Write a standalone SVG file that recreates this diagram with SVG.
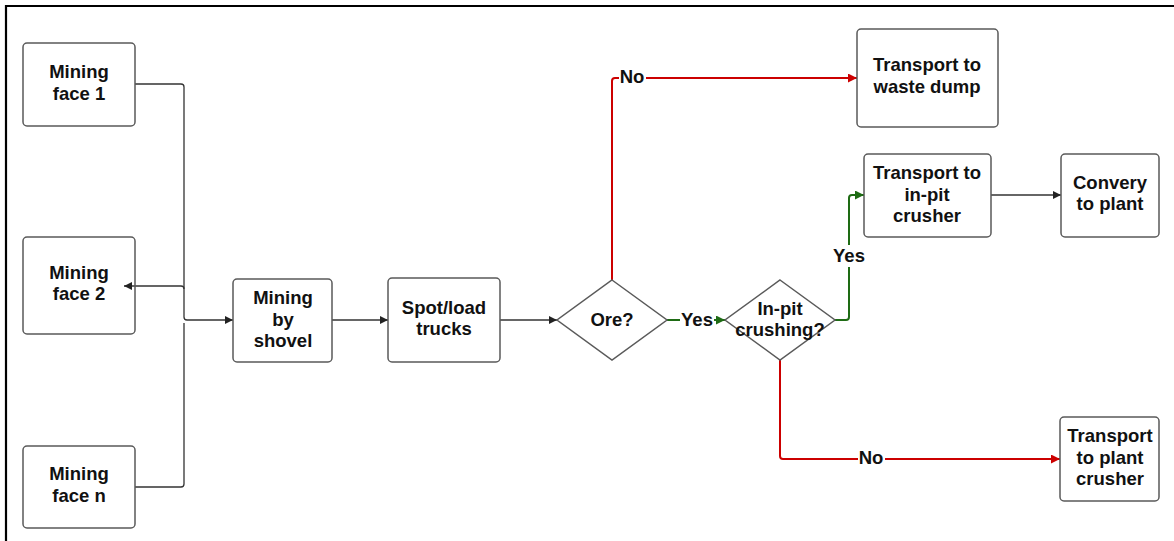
<svg xmlns="http://www.w3.org/2000/svg" width="1174" height="541" viewBox="0 0 1174 541">
<defs>
<style>
.box{fill:#fff;stroke:#5a5a5a;stroke-width:1.5}
.t{font-family:"Liberation Sans",Arial,sans-serif;font-weight:bold;font-size:18.5px;fill:#111;text-anchor:middle;dominant-baseline:central}
.c{fill:none;stroke:#333;stroke-width:1.3}
.r{fill:none;stroke:#cc0000;stroke-width:2}
.g{fill:none;stroke:#1e6b14;stroke-width:2}
.lbl{font-family:"Liberation Sans",Arial,sans-serif;font-weight:bold;font-size:18.5px;fill:#111;text-anchor:middle;dominant-baseline:central}
</style>
<marker id="ak" viewBox="0 0 10 10" refX="10" refY="5" markerWidth="11" markerHeight="8" markerUnits="userSpaceOnUse" orient="auto"><path d="M0,0 L10,5 L0,10 z" fill="#222"/></marker>
<marker id="ar" viewBox="0 0 10 10" refX="10" refY="5" markerWidth="12" markerHeight="9" markerUnits="userSpaceOnUse" orient="auto"><path d="M0,0 L10,5 L0,10 z" fill="#cc0000"/></marker>
<marker id="ag" viewBox="0 0 10 10" refX="10" refY="5" markerWidth="12" markerHeight="9" markerUnits="userSpaceOnUse" orient="auto"><path d="M0,0 L10,5 L0,10 z" fill="#1e6b14"/></marker>
</defs>
<rect width="1174" height="541" fill="#fff"/>
<path d="M6,541 V6 H1174" fill="none" stroke="#000" stroke-width="2.2"/>

<g id="connectors">
<path class="c" d="M135,84 H181 Q184,84 184,87 V317 Q184,320 187,320 H233" marker-end="url(#ak)"/>
<path class="c" d="M135,487 H181 Q184,487 184,484 V323"/>
<path class="c" d="M184,289 Q184,286 181,286 H124" marker-end="url(#ak)"/>
<path class="c" d="M332,320 H388" marker-end="url(#ak)"/>
<path class="c" d="M500,320 H557" marker-end="url(#ak)"/>
<path class="r" d="M612,280 V81 Q612,78 615,78 H857" marker-end="url(#ar)"/>
<path class="g" d="M667,320 H725" marker-end="url(#ag)"/>
<path class="g" d="M835,320 H846 Q849,320 849,317 V198 Q849,195 852,195 H864" marker-end="url(#ag)"/>
<path class="c" d="M991,195 H1061" marker-end="url(#ak)"/>
<path class="r" d="M780,360 V456 Q780,459 783,459 H1060" marker-end="url(#ar)"/>
<rect x="619" y="68" width="27" height="20" fill="#fff"/>
<text class="lbl" x="632" y="76">No</text>
<rect x="680" y="311" width="34" height="18" fill="#fff"/>
<text class="lbl" x="697" y="319">Yes</text>
<rect x="832" y="245" width="34" height="22" fill="#fff"/>
<text class="lbl" x="849" y="255">Yes</text>
<rect x="858" y="449" width="27" height="20" fill="#fff"/>
<text class="lbl" x="871" y="457">No</text>
</g>

<g id="face1"><rect class="box" x="23" y="43" width="112" height="83" rx="4"/><text class="t" x="79" y="71">Mining</text><text class="t" x="79" y="93">face 1</text></g>
<g id="face2"><rect class="box" x="23" y="237" width="112" height="97" rx="4" fill-opacity="0"/><text class="t" x="79" y="272">Mining</text><text class="t" x="79" y="293">face 2</text></g>
<g id="facen"><rect class="box" x="23" y="446" width="112" height="82" rx="4"/><text class="t" x="79" y="473">Mining</text><text class="t" x="79" y="495">face n</text></g>
<g id="shovel"><rect class="box" x="233" y="279" width="99" height="83" rx="4"/><text class="t" x="283" y="297">Mining</text><text class="t" x="283" y="319">by</text><text class="t" x="283" y="340">shovel</text></g>
<g id="spot"><rect class="box" x="388" y="278" width="112" height="84" rx="4"/><text class="t" x="444" y="307">Spot/load</text><text class="t" x="444" y="328">trucks</text></g>
<g id="ore"><path class="box" d="M612,280 L667,320 L612,360 L557,320 Z" stroke-width="1.3"/><text class="t" x="612" y="319">Ore?</text></g>
<g id="inpit"><path class="box" d="M780,280 L835,320 L780,360 L725,320 Z" stroke-width="1.3"/><text class="t" x="780" y="308">In-pit</text><text class="t" x="780" y="329">crushing?</text></g>
<g id="waste"><rect class="box" x="857" y="29" width="141" height="98" rx="4"/><text class="t" x="927" y="64">Transport to</text><text class="t" x="927" y="86">waste dump</text></g>
<g id="crusher"><rect class="box" x="864" y="154" width="127" height="83" rx="4"/><text class="t" x="927" y="172">Transport to</text><text class="t" x="927" y="194">in-pit</text><text class="t" x="927" y="215">crusher</text></g>
<g id="convery"><rect class="box" x="1061" y="154" width="98" height="83" rx="4"/><text class="t" x="1110" y="182">Convery</text><text class="t" x="1110" y="203">to plant</text></g>
<g id="plant"><rect class="box" x="1060" y="417" width="99" height="84" rx="4"/><text class="t" x="1110" y="435">Transport</text><text class="t" x="1110" y="457">to plant</text><text class="t" x="1110" y="478">crusher</text></g>
</svg>
